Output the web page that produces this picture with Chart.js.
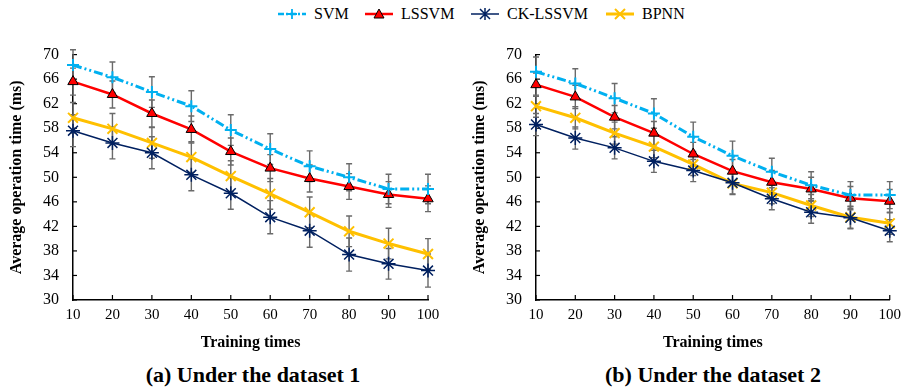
<!DOCTYPE html>
<html>
<head>
<meta charset="utf-8">
<script src="https://cdn.jsdelivr.net/npm/chart.js@4.4.0/dist/chart.umd.min.js"></script>
<style>
  body { margin: 0; width: 904px; height: 387px; background: #fff; position: relative; overflow: hidden;
         font-family: 'Liberation Serif', 'Times New Roman', serif; color: #000; }
  canvas { position: absolute; }
  .item { position: absolute; top: 4px; height: 20px; display: flex; align-items: center; font-size: 16px; }
  .item svg { margin-right: 8px; }
  .caption { position: absolute; top: 362px; width: 300px; line-height: 26px; text-align: center;
             font-weight: bold; font-size: 22px; }
</style>
</head>
<body>
<div class="item" style="left:278px">
  <svg width="28" height="16"><line x1="0" y1="8" x2="28" y2="8" stroke="#00B0F0" stroke-width="2.5" stroke-dasharray="6,2,2,2"/><path d="M14 3v10M9 8h10" stroke="#00B0F0" stroke-width="1.8"/></svg>SVM</div>
<div class="item" style="left:365px">
  <svg width="28" height="16"><line x1="0" y1="8" x2="28" y2="8" stroke="#FF0000" stroke-width="2.5"/><path d="M14 3L19 12H9Z" fill="#FF0000" stroke="#000" stroke-width="1"/></svg>LSSVM</div>
<div class="item" style="left:471px">
  <svg width="28" height="16"><line x1="0" y1="8" x2="28" y2="8" stroke="#002060" stroke-width="1.5"/><path d="M14 2v12M9 3l10 10M19 3L9 13" stroke="#002060" stroke-width="1.5"/></svg>CK-LSSVM</div>
<div class="item" style="left:606px">
  <svg width="28" height="16"><line x1="0" y1="8" x2="28" y2="8" stroke="#FFC000" stroke-width="3"/><path d="M9 3l10 10M19 3L9 13" stroke="#FFC000" stroke-width="2"/></svg>BPNN</div>

<canvas id="chartA" width="450" height="324" style="left:0;top:31px"></canvas>
<canvas id="chartB" width="444" height="324" style="left:463px;top:31px"></canvas>

<div class="caption" style="left:103px">(a) Under the dataset 1</div>
<div class="caption" style="left:563px">(b) Under the dataset 2</div>

<script>
const trainTimes = [10, 20, 30, 40, 50, 60, 70, 80, 90, 100];
const yTicks = [30, 34, 38, 42, 46, 50, 54, 58, 62, 66, 70];

// dataset 1
const svm1    = [68.3, 66.3, 63.9, 61.6, 57.7, 54.6, 51.8, 50.0, 48.1, 48.1];
const lssvm1  = [65.6, 63.5, 60.4, 57.8, 54.2, 51.5, 49.8, 48.5, 47.2, 46.5];
const ck1     = [57.6, 55.6, 54.0, 50.4, 47.4, 43.5, 41.3, 37.4, 35.9, 34.8];
const bpnn1   = [59.7, 57.9, 55.6, 53.3, 50.2, 47.3, 44.3, 41.2, 39.2, 37.5];
const svmErr1   = [2.5, 2.5, 2.5, 2.5, 2.5, 2.5, 2.5, 2.2, 2.4, 2.4];
const lssvmErr1 = [2.2, 2.2, 2.2, 2.2, 2.2, 2.2, 2.2, 2.1, 2.1, 2.1];
const ckErr1    = [2.6, 2.6, 2.6, 2.6, 2.6, 2.7, 2.7, 2.7, 2.5, 2.7];
const bpnnErr1  = [2.5, 2.5, 2.5, 2.5, 2.5, 2.5, 2.5, 2.5, 2.5, 2.5];

// dataset 2
const svm2    = [67.2, 65.3, 62.9, 60.4, 56.6, 53.5, 50.9, 48.7, 47.1, 47.1];
const lssvm2  = [65.1, 63.1, 59.8, 57.2, 53.8, 51.0, 49.2, 48.1, 46.6, 46.1];
const ck2     = [58.6, 56.4, 54.8, 52.6, 51.1, 49.1, 46.5, 44.3, 43.4, 41.3];
const bpnn2   = [61.6, 59.7, 57.2, 55.0, 52.1, 49.0, 47.5, 45.4, 43.5, 42.5];
const svmErr2   = [2.4, 2.4, 2.4, 2.4, 2.4, 2.4, 2.2, 2.2, 2.2, 2.2];
const lssvmErr2 = [1.9, 1.9, 1.9, 1.9, 1.9, 1.9, 1.9, 1.9, 1.9, 1.9];
const ckErr2    = [1.8, 1.8, 1.8, 1.8, 1.8, 1.8, 1.8, 1.8, 1.8, 1.8];
const bpnnErr2  = [1.8, 1.8, 1.8, 1.8, 1.8, 1.8, 1.8, 1.8, 1.8, 1.8];

const serif = "'Liberation Serif', 'Times New Roman', serif";

// error bars + inward axis ticks, drawn under the lines
const errorBars = {
    id: 'errorBars',
    beforeDatasetsDraw(chart) {
        const ctx = chart.ctx;
        const x = chart.scales.x, y = chart.scales.y;
        ctx.save();
        ctx.strokeStyle = '#000';
        ctx.lineWidth = 1.2;
        trainTimes.forEach((t, i) => {
            const px = x.getPixelForValue(i);
            ctx.beginPath();
            ctx.moveTo(px, y.bottom);
            ctx.lineTo(px, y.bottom - 5);
            ctx.stroke();
        });
        yTicks.forEach(v => {
            const py = y.getPixelForValue(v);
            ctx.beginPath();
            ctx.moveTo(x.left, py);
            ctx.lineTo(x.left + 4, py);
            ctx.stroke();
        });
        ctx.strokeStyle = '#6a6a6a';
        ctx.lineWidth = 1.4;
        chart.data.datasets.forEach(ds => {
            ds.data.forEach((v, i) => {
                const px = x.getPixelForValue(i);
                const top = y.getPixelForValue(v + ds.errors[i]);
                const bot = y.getPixelForValue(v - ds.errors[i]);
                ctx.beginPath();
                ctx.moveTo(px, top); ctx.lineTo(px, bot);
                ctx.moveTo(px - 3, top); ctx.lineTo(px + 3, top);
                ctx.moveTo(px - 3, bot); ctx.lineTo(px + 3, bot);
                ctx.stroke();
            });
        });
        ctx.restore();
    }
};

function makeDatasets(svm, lssvm, ck, bpnn, errs) {
    return [
        {
            label: 'SVM', data: svm, errors: errs[0],
            borderColor: '#00B0F0', borderWidth: 3, borderDash: [9, 3, 2, 3, 2, 3],
            pointStyle: 'cross', pointRadius: 6, pointBorderWidth: 2,
            pointBorderColor: '#00B0F0', tension: 0,
        },
        {
            label: 'LSSVM', data: lssvm, errors: errs[1],
            borderColor: '#FF0000', borderWidth: 2.5,
            pointStyle: 'triangle', pointRadius: 6, pointBorderWidth: 1,
            pointBorderColor: '#000', pointBackgroundColor: '#FF0000', tension: 0,
        },
        {
            label: 'CK-LSSVM', data: ck, errors: errs[2],
            borderColor: '#002060', borderWidth: 1.5,
            pointStyle: 'star', pointRadius: 7, pointBorderWidth: 1.5,
            pointBorderColor: '#002060', tension: 0,
        },
        {
            label: 'BPNN', data: bpnn, errors: errs[3],
            borderColor: '#FFC000', borderWidth: 3,
            pointStyle: 'crossRot', pointRadius: 7, pointBorderWidth: 2,
            pointBorderColor: '#FFC000', tension: 0,
        },
    ];
}

function makeChart(id, datasets, padRight) {
    const ctx = document.getElementById(id).getContext('2d');
    return new Chart(ctx, {
        type: 'line',
        data: { labels: trainTimes, datasets: datasets },
        options: {
            responsive: false,
            animation: false,
            layout: { padding: { top: 0, right: padRight, left: 0, bottom: 0 } },
            plugins: { legend: { display: false }, tooltip: { enabled: false } },
            scales: {
                x: {
                    offset: false,
                    grid: { display: true, drawOnChartArea: false, drawTicks: false },
                    border: { color: '#000', width: 1.5 },
                    ticks: { padding: 6, color: '#000', maxRotation: 0, autoSkip: false,
                             font: { family: serif, size: 15 } },
                    title: { display: true, text: 'Training times', color: '#000',
                             font: { family: serif, size: 16, weight: 'bold' },
                             padding: { top: 6, bottom: 3 } },
                    afterFit(scale) { scale.height = 55; }
                },
                y: {
                    min: 30, max: 70,
                    afterBuildTicks(scale) { scale.ticks = yTicks.map(v => ({ value: v })); },
                    grid: { display: true, drawOnChartArea: false, drawTicks: false },
                    border: { color: '#000', width: 1.5 },
                    ticks: { padding: 14, color: '#000', font: { family: serif, size: 16 } },
                    title: { display: true, text: 'Average operation time (ms)', color: '#000',
                             font: { family: serif, size: 16, weight: 'bold' },
                             padding: { top: 7, bottom: 0 } },
                    afterFit(scale) { scale.width = 73; }
                }
            }
        },
        plugins: [errorBars]
    });
}

Promise.all([
    document.fonts.load("16px 'Liberation Serif'"),
    document.fonts.load("bold 16px 'Liberation Serif'")
]).catch(() => {}).then(() => {
    makeChart('chartA', makeDatasets(svm1, lssvm1, ck1, bpnn1,
        [svmErr1, lssvmErr1, ckErr1, bpnnErr1]), 22);
    makeChart('chartB', makeDatasets(svm2, lssvm2, ck2, bpnn2,
        [svmErr2, lssvmErr2, ckErr2, bpnnErr2]), 17);
});
</script>
</body>
</html>
